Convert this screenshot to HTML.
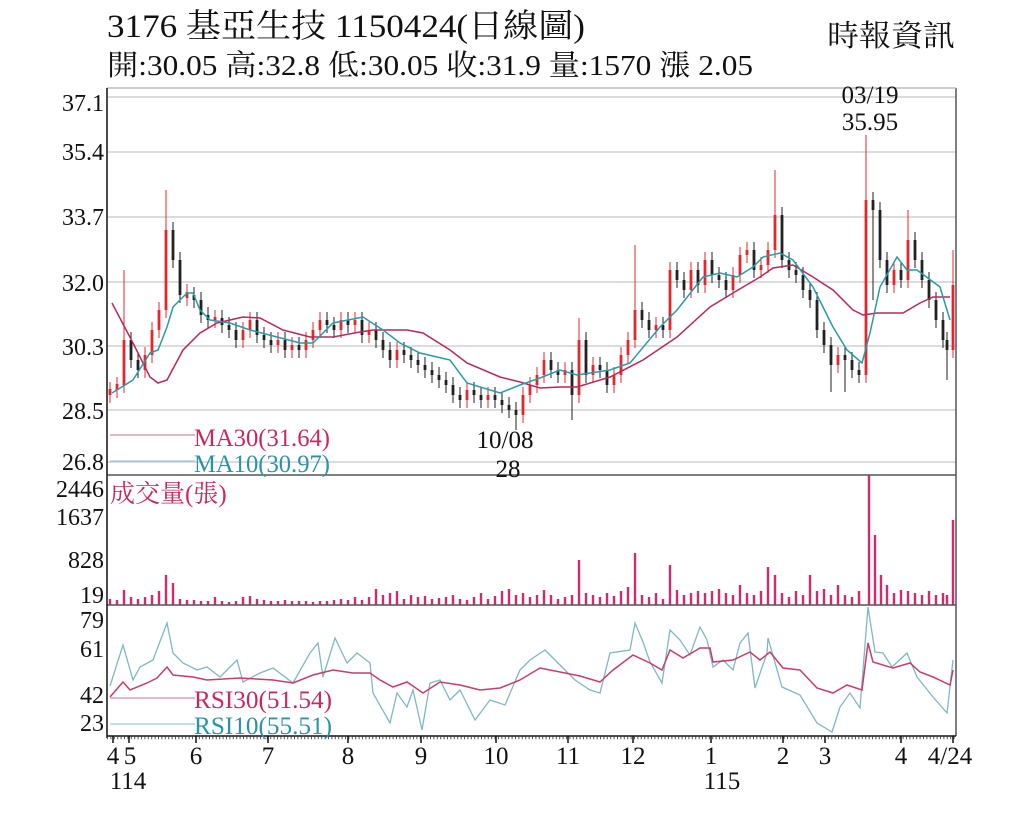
<!DOCTYPE html>
<html><head><meta charset="utf-8">
<style>
body{margin:0;background:#fff;}
svg text{font-family:"Liberation Serif","Noto Serif CJK TC","Noto Serif CJK SC",serif;}
</style></head>
<body>
<svg width="1024" height="819" xmlns="http://www.w3.org/2000/svg">
<rect width="1024" height="819" fill="#fff"/>
<text x="107" y="37" font-size="33" fill="#111" textLength="478" lengthAdjust="spacingAndGlyphs">3176  基亞生技 1150424(日線圖)</text>
<text x="107" y="75" font-size="29" fill="#111" textLength="646" lengthAdjust="spacingAndGlyphs">開:30.05 高:32.8 低:30.05 收:31.9 量:1570 漲 2.05</text>
<text x="827" y="46" font-size="30" fill="#111" textLength="128" lengthAdjust="spacingAndGlyphs">時報資訊</text>
<g stroke="#c8c8c8" stroke-width="1.2">
<line x1="107" x2="956" y1="97" y2="97"/><line x1="107" x2="956" y1="152" y2="152"/><line x1="107" x2="956" y1="217" y2="217"/>
<line x1="107" x2="956" y1="282" y2="282"/><line x1="107" x2="956" y1="346" y2="346"/>
<line x1="107" x2="956" y1="410" y2="410"/><line x1="107" x2="956" y1="462" y2="462"/>
</g>
<g font-size="24" fill="#111" text-anchor="end">
<text x="104" y="111">37.1</text><text x="104" y="160">35.4</text><text x="104" y="225">33.7</text>
<text x="104" y="291">32.0</text><text x="104" y="355">30.3</text><text x="104" y="419">28.5</text>
<text x="104" y="470">26.8</text>
<text x="104" y="497">2446</text><text x="104" y="525">1637</text><text x="104" y="568">828</text><text x="104" y="603">19</text>
<text x="104" y="628">79</text><text x="104" y="657">61</text><text x="104" y="703">42</text><text x="104" y="731">23</text>
</g>
<!-- candles -->
<path fill="none" stroke="#e0282e" stroke-width="1" d="M110 382V403M117 377V398M124 270V393M145 347V378M152 322V363M159 302V338M166 190V318M187 284V306M215 310V328M243 322V348M250 312V338M278 332V353M292 337V358M306 332V358M313 322V348M320 312V338M341 312V338M355 312V333M369 322V343M397 342V368M467 382V408M488 387V408M523 387V423M530 377V403M537 367V393M544 352V383M565 362V383M579 318V403M593 357V383M614 367V393M621 347V383M628 332V363M635 245V348M656 317V338M670 262V338M691 262V298M705 252V293M733 267V298M740 247V283M747 242V263M761 257V278M768 242V273M775 170V258M838 347V373M866 135V383M894 262V293M908 210V288M953 250V358"/>
<path fill="none" stroke="#e0282e" stroke-width="2.8" d="M110 389V395M117 384V390M124 340V385M145 355V370M152 330V355M159 310V330M166 230V310M187 292V298M215 317V320M243 330V340M250 320V330M278 340V345M292 345V350M306 340V350M313 330V340M320 320V330M341 320V330M355 320V325M369 330V335M397 350V360M467 390V400M488 395V400M523 395V415M530 385V395M537 375V385M544 360V375M565 370V375M579 340V395M593 365V375M614 375V385M621 355V375M628 340V355M635 310V340M656 325V330M670 270V330M691 270V290M705 260V285M733 275V290M740 255V275M747 250V255M761 265V270M768 250V265M775 215V250M838 355V365M866 200V375M894 270V285M908 240V280M953 285V350"/>
<path fill="none" stroke="#222" stroke-width="1" d="M131 332V368M138 352V378M173 222V268M180 252V303M194 287V308M201 292V323M208 307V328M222 310V333M229 317V338M236 322V348M257 312V343M264 327V348M271 332V353M285 332V358M299 337V358M327 312V333M334 317V338M348 312V333M362 312V343M376 322V348M383 332V358M390 342V368M404 342V363M411 347V368M418 352V373M425 357V378M432 362V383M439 367V388M446 372V393M453 377V403M460 387V408M474 382V403M481 387V408M495 387V408M502 392V413M509 397V418M516 402V430M551 352V378M558 362V383M572 362V420M586 332V383M600 357V378M607 362V393M642 302V328M649 312V338M663 317V338M677 262V288M684 272V298M698 262V293M712 252V283M719 267V288M726 272V298M754 242V278M782 207V268M789 252V278M796 262V283M803 267V298M810 282V308M817 292V338M824 322V353M831 337V392M845 347V392M852 352V378M859 362V383M873 192V300M880 202V268M887 252V293M901 262V288M915 232V268M922 252V288M929 272V308M936 292V328M943 312V348M947 332V380"/>
<path fill="none" stroke="#222" stroke-width="2.8" d="M131 340V360M138 360V370M173 230V260M180 260V295M194 295V300M201 300V315M208 315V320M222 318V325M229 325V330M236 330V340M257 320V335M264 335V340M271 340V345M285 340V350M299 345V350M327 320V325M334 325V330M348 320V325M362 320V335M376 330V340M383 340V350M390 350V360M404 350V355M411 355V360M418 360V365M425 365V370M432 370V375M439 375V380M446 380V385M453 385V395M460 395V400M474 390V395M481 395V400M495 395V400M502 400V405M509 405V410M516 410V415M551 360V370M558 370V375M572 370V395M586 340V375M600 365V370M607 370V385M642 310V320M649 320V330M663 325V330M677 270V280M684 280V290M698 270V285M712 260V275M719 275V280M726 280V290M754 250V270M782 215V260M789 260V270M796 270V275M803 275V290M810 290V300M817 300V330M824 330V345M831 345V365M845 355V360M852 360V370M859 370V375M873 200V210M880 210V260M887 260V285M901 270V280M915 240V260M922 260V280M929 280V300M936 300V320M943 320V340M947 340V350"/>
<!-- MAs -->
<polyline fill="none" stroke="#b8285a" stroke-width="1.5" points="112,303 133,343 150,377 158,383 167,380 183,350 200,333 217,323 243,317 260,318 283,330 310,337 333,337 360,332 373,330 407,330 423,333 450,350 467,363 500,377 520,382 540,388 560,387 577,387 610,377 643,360 677,337 710,307 733,293 760,277 773,268 793,265 813,277 833,290 853,310 863,315 877,313 903,313 920,303 933,297 950,297"/>
<polyline fill="none" stroke="#2a9aa8" stroke-width="1.5" points="112,393 133,380 150,353 158,350 167,327 173,307 187,293 193,293 200,310 210,320 230,323 250,330 277,337 300,343 313,343 333,323 363,317 383,330 400,343 420,353 450,360 467,383 500,393 520,385 540,378 560,370 577,375 610,370 630,363 660,327 677,310 703,277 720,273 737,277 753,267 763,257 780,253 793,260 813,287 833,327 847,350 862,363 870,333 880,287 897,257 907,270 917,270 940,287 950,320"/>
<!-- volume -->
<path fill="none" stroke="#d6286e" stroke-width="2.4" d="M110 605v-6M117 605v-5M124 605v-15M131 605v-8M138 605v-6M145 605v-8M152 605v-10M159 605v-14M166 605v-30M173 605v-22M180 605v-6M187 605v-5M194 605v-5M201 605v-4M208 605v-4M215 605v-8M222 605v-4M229 605v-3M236 605v-4M243 605v-8M250 605v-9M257 605v-6M264 605v-5M271 605v-4M278 605v-4M285 605v-5M292 605v-4M299 605v-4M306 605v-4M313 605v-3M320 605v-4M327 605v-4M334 605v-5M341 605v-6M348 605v-5M355 605v-8M362 605v-5M369 605v-8M376 605v-16M383 605v-10M390 605v-12M397 605v-14M404 605v-6M411 605v-10M418 605v-8M425 605v-9M432 605v-6M439 605v-7M446 605v-8M453 605v-10M460 605v-6M467 605v-5M474 605v-8M481 605v-12M488 605v-6M495 605v-9M502 605v-14M509 605v-16M516 605v-10M523 605v-12M530 605v-8M537 605v-10M544 605v-15M551 605v-10M558 605v-6M565 605v-8M572 605v-10M579 605v-45M586 605v-12M593 605v-10M600 605v-8M607 605v-12M614 605v-9M621 605v-14M628 605v-18M635 605v-52M642 605v-10M649 605v-8M656 605v-12M663 605v-6M670 605v-40M677 605v-15M684 605v-10M691 605v-12M698 605v-14M705 605v-12M712 605v-14M719 605v-16M726 605v-12M733 605v-10M740 605v-20M747 605v-12M754 605v-10M761 605v-14M768 605v-38M775 605v-30M782 605v-12M789 605v-8M796 605v-14M803 605v-10M810 605v-30M817 605v-14M824 605v-16M831 605v-10M838 605v-20M845 605v-10M852 605v-8M859 605v-14M869 605v-130M875 605v-70M881 605v-30M887 605v-20M894 605v-12M901 605v-15M908 605v-14M915 605v-12M922 605v-10M929 605v-14M936 605v-10M943 605v-12M947 605v-10M953 605v-85"/>
<!-- RSI -->
<polyline fill="none" stroke="#7fb8c4" stroke-width="1.3" points="110,686 123,645 133,680 140,667 153,660 167,623 173,653 183,663 197,670 207,667 220,677 237,660 243,682 260,673 273,668 293,683 310,653 318,643 323,677 335,638 347,663 357,653 370,663 373,693 390,723 397,693 407,707 413,690 422,730 430,683 440,680 450,700 460,690 475,720 490,700 505,705 520,670 530,660 545,650 560,665 575,680 590,690 600,693 610,653 630,650 635,623 643,642 650,662 662,683 670,630 680,640 690,655 700,627 707,640 713,667 723,660 733,670 740,643 748,633 755,688 767,653 768,638 782,687 800,695 817,723 832,732 840,707 850,693 860,708 868,607 875,652 883,653 892,667 907,653 917,677 933,697 947,713 953,660"/>
<polyline fill="none" stroke="#c83d6a" stroke-width="1.5" points="110,697 123,682 130,690 147,683 157,678 167,667 173,675 193,677 207,680 240,678 273,680 293,683 313,675 333,670 353,673 370,673 380,680 393,687 407,682 423,693 440,682 460,685 480,690 500,688 520,680 540,668 560,672 580,676 600,682 613,670 633,655 650,663 662,670 670,650 683,658 700,648 710,648 713,662 733,660 750,652 760,660 770,652 783,668 800,670 817,688 833,693 847,685 862,690 868,643 873,662 893,668 910,663 920,672 933,677 950,685 953,670"/>
<!-- frame -->
<g stroke="#555" stroke-width="1.5" fill="none">
<line x1="107" x2="956" y1="475" y2="475"/><line x1="107" x2="956" y1="605" y2="605"/>
<line x1="956" x2="956" y1="88" y2="736"/><line x1="107" x2="956" y1="88" y2="88" stroke="#bbb"/>
</g>
<line x1="107" x2="107" y1="88" y2="738" stroke="#111" stroke-width="1.5"/>
<line x1="107" x2="956" y1="736" y2="736" stroke="#111" stroke-width="1.5"/>
<line x1="107" x2="956" y1="738" y2="738" stroke="#555" stroke-width="2.5" stroke-dasharray="1 2.4"/>
<g stroke="#111" stroke-width="1.5">
<line x1="113" x2="113" y1="736" y2="743"/><line x1="129" x2="129" y1="736" y2="743"/><line x1="196" x2="196" y1="736" y2="743"/>
<line x1="268" x2="268" y1="736" y2="743"/><line x1="348" x2="348" y1="736" y2="743"/><line x1="421" x2="421" y1="736" y2="743"/>
<line x1="496" x2="496" y1="736" y2="743"/><line x1="568" x2="568" y1="736" y2="743"/><line x1="633" x2="633" y1="736" y2="743"/>
<line x1="711" x2="711" y1="736" y2="743"/><line x1="783" x2="783" y1="736" y2="743"/><line x1="825" x2="825" y1="736" y2="743"/>
<line x1="901" x2="901" y1="736" y2="743"/><line x1="953" x2="953" y1="736" y2="743"/>
</g>
<!-- legends -->
<line x1="110" x2="195" y1="435" y2="435" stroke="#d98aa5" stroke-width="1.3"/>
<text x="194" y="446" font-size="25" fill="#c8285f" textLength="136" lengthAdjust="spacingAndGlyphs">MA30(31.64)</text>
<line x1="110" x2="195" y1="461" y2="461" stroke="#9cc9cf" stroke-width="1.3"/>
<text x="194" y="472" font-size="25" fill="#2a93a8" textLength="136" lengthAdjust="spacingAndGlyphs">MA10(30.97)</text>
<text x="110" y="502" font-size="25" fill="#c8285f">成交量(張)</text>
<line x1="110" x2="195" y1="698" y2="698" stroke="#d98aa5" stroke-width="1.3"/>
<text x="194" y="708" font-size="25" fill="#c8285f" textLength="138" lengthAdjust="spacingAndGlyphs">RSI30(51.54)</text>
<line x1="110" x2="195" y1="724" y2="724" stroke="#9cc9cf" stroke-width="1.3"/>
<text x="194" y="734" font-size="25" fill="#2a93a8" textLength="138" lengthAdjust="spacingAndGlyphs">RSI10(55.51)</text>
<g font-size="25" fill="#111" text-anchor="middle">
<text x="870" y="103">03/19</text><text x="870" y="130">35.95</text>
<text x="505" y="448">10/08</text><text x="508" y="477">28</text>
<text x="113" y="764">4</text><text x="130" y="764">5</text><text x="128" y="789">114</text>
<text x="196" y="764">6</text><text x="268" y="764">7</text><text x="348" y="764">8</text>
<text x="421" y="764">9</text><text x="496" y="764">10</text><text x="568" y="764">11</text>
<text x="633" y="764">12</text><text x="711" y="764">1</text><text x="722" y="789">115</text>
<text x="783" y="764">2</text><text x="825" y="764">3</text><text x="901" y="764">4</text>
<text x="950" y="764">4/24</text>
</g>
</svg>
</body></html>
